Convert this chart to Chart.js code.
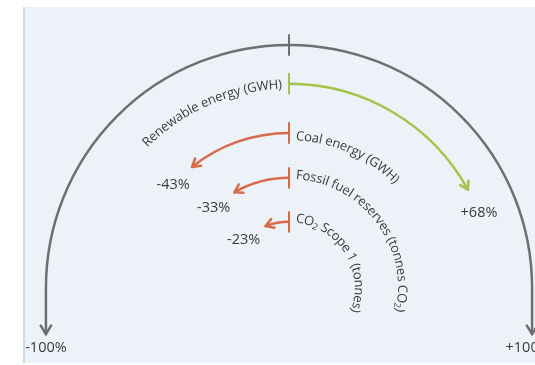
<!DOCTYPE html>
<html>
<head>
<meta charset="utf-8">
<script src="https://cdn.jsdelivr.net/npm/chart.js@4.4.1/dist/chart.umd.min.js"></script>
<style>
  html, body { margin: 0; padding: 0; background: #ffffff; width: 535px; height: 365px; overflow: hidden; }
  #panel { position: absolute; left: 23px; top: 7px; width: 512px; height: 356px; background: #edf1f8; border-left: 2px solid #c9dcef; box-sizing: border-box; }
  #wrap { position: absolute; left: 0; top: 0; width: 535px; height: 365px; }
</style>
</head>
<body>
<div id="panel"></div>
<div id="wrap"><canvas id="chart" width="535" height="365"></canvas></div>
<script>
// Change in each metric, in percent
const metrics = ['Renewable energy (GWH)', 'Coal energy (GWH)', 'Fossil fuel reserves (tonnes CO\u2082)', 'CO\u2082 Scope 1 (tonnes)'];
const changes = [68, -43, -33, -23];

// Gauge axis ticks
const axisTicks = [-100, 0, 100];
const axisTickLabels = ['-100%', '', '+100%'];

// Layout (chart units: the outer gauge ring has radius 100)
const ringRadius = [84, 63.8, 45.3, 27.2];
const nameRadius = [83.6, 62.4, 46.4, 28.6];
const tailLength = 19;
const endLabelShift = [0, 0, -4];   // px, keeps the right-hand label inside the page
const colors = { axis: '#6f6f6f', up: '#a3c34b', down: '#d86a4c', text: '#3b3b3b' };
const FONT = '"Open Sans", "Segoe UI", sans-serif';

const toAngle = v => v / 100 * Math.PI / 2;   // clockwise from the top

function polar(chart, r, th) {
  const xs = chart.scales.x, ys = chart.scales.y;
  return { x: xs.getPixelForValue(r * Math.sin(th)), y: ys.getPixelForValue(r * Math.cos(th)) };
}
function unitPx(chart) {
  const xs = chart.scales.x;
  return xs.getPixelForValue(1) - xs.getPixelForValue(0);
}

function chevron(ctx, tip, dx, dy, len, spread) {
  const back = Math.atan2(-dy, -dx);
  ctx.beginPath();
  ctx.moveTo(tip.x + len * Math.cos(back + spread), tip.y + len * Math.sin(back + spread));
  ctx.lineTo(tip.x, tip.y);
  ctx.lineTo(tip.x + len * Math.cos(back - spread), tip.y + len * Math.sin(back - spread));
  ctx.stroke();
}

function glyphs(text) {
  return Array.from(text).map(ch => ch === '\u2082'
    ? { ch: '2', font: '9px ' + FONT, dy: 3.5 }
    : { ch: ch, font: '13px ' + FONT, dy: 0 });
}

// Writes text clockwise along a circle; side > 0 starts at the top and runs right,
// side < 0 ends at the top.
function arcText(chart, text, r, side, gapPx) {
  const ctx = chart.ctx;
  const k = unitPx(chart);
  const rPx = r * k;
  const gs = glyphs(text);
  let total = 0;
  gs.forEach(g => { ctx.font = g.font; g.w = ctx.measureText(g.ch).width; total += g.w; });
  let th = side > 0 ? gapPx / rPx : -gapPx / rPx - total / rPx;
  ctx.fillStyle = colors.text;
  ctx.textAlign = 'center';
  ctx.textBaseline = 'middle';
  gs.forEach(g => {
    const mid = th + (g.w / 2) / rPx;
    const p = polar(chart, r, mid);
    ctx.save();
    ctx.translate(p.x, p.y);
    ctx.rotate(mid);
    ctx.font = g.font;
    ctx.fillText(g.ch, 0, g.dy);
    ctx.restore();
    th += g.w / rPx;
  });
}

const gaugePlugin = {
  id: 'gauge',
  afterDatasetsDraw(chart) {
    const ctx = chart.ctx;
    const k = unitPx(chart);
    const c = polar(chart, 0, 0);
    ctx.save();
    ctx.lineCap = 'round';
    ctx.lineJoin = 'round';

    // outer axis ring with downward tails
    ctx.strokeStyle = colors.axis;
    ctx.lineWidth = 2.5;
    const left = polar(chart, 100, toAngle(axisTicks[0]));
    const right = polar(chart, 100, toAngle(axisTicks[2]));
    const yTail = chart.scales.y.getPixelForValue(-tailLength);
    ctx.beginPath();
    ctx.moveTo(left.x, yTail);
    ctx.lineTo(left.x, left.y);
    ctx.arc(c.x, c.y, 100 * k, -Math.PI / 2 + toAngle(axisTicks[0]), -Math.PI / 2 + toAngle(axisTicks[2]), false);
    ctx.lineTo(right.x, yTail);
    ctx.stroke();
    chevron(ctx, { x: left.x, y: yTail }, 0, 1, 10, 0.55);
    chevron(ctx, { x: right.x, y: yTail }, 0, 1, 10, 0.55);
    // zero tick
    const t0 = polar(chart, 100 - 4.1, toAngle(axisTicks[1]));
    const t1 = polar(chart, 100 + 4.1, toAngle(axisTicks[1]));
    ctx.lineWidth = 2;
    ctx.beginPath(); ctx.moveTo(t0.x, t0.y); ctx.lineTo(t1.x, t1.y); ctx.stroke();

    // axis end labels
    ctx.fillStyle = colors.text;
    ctx.font = '14.5px ' + FONT;
    ctx.textAlign = 'center';
    ctx.textBaseline = 'middle';
    [0, 2].forEach(i => {
      const p = polar(chart, 100, toAngle(axisTicks[i]));
      ctx.fillText(axisTickLabels[i], p.x + endLabelShift[i], chart.scales.y.getPixelForValue(-tailLength - 5.8));
    });

    // one arrow per metric
    changes.forEach((v, i) => {
      const r = ringRadius[i];
      const th = toAngle(v);
      const col = v >= 0 ? colors.up : colors.down;
      const sgn = v >= 0 ? 1 : -1;
      ctx.strokeStyle = col;
      ctx.lineWidth = 2.5;
      ctx.beginPath();
      ctx.arc(c.x, c.y, r * k, -Math.PI / 2, -Math.PI / 2 + th, v < 0);
      ctx.stroke();
      // start tick
      const a = polar(chart, r - 4.1, 0), b = polar(chart, r + 4.1, 0);
      ctx.lineWidth = 2;
      ctx.beginPath(); ctx.moveTo(a.x, a.y); ctx.lineTo(b.x, b.y); ctx.stroke();
      // arrowhead
      const tip = polar(chart, r, th);
      ctx.lineWidth = 2.5;
      chevron(ctx, tip, sgn * Math.cos(th), sgn * Math.sin(th), 9, 0.55);
      // value label just beyond the arrow
      const lp = polar(chart, r, th + sgn * 26 / (r * k));
      ctx.fillStyle = colors.text;
      ctx.font = '14.5px ' + FONT;
      ctx.textAlign = 'center';
      ctx.textBaseline = 'middle';
      ctx.fillText((v > 0 ? '+' : '') + v + '%', lp.x, lp.y);
      // metric name along the ring, on the side opposite the arrow
      arcText(chart, metrics[i], nameRadius[i], -sgn, 7);
    });
    ctx.restore();
  }
};

new Chart(document.getElementById('chart'), {
  type: 'scatter',
  data: {
    datasets: [{
      label: 'Change',
      data: changes.map((v, i) => ({ x: ringRadius[i] * Math.sin(toAngle(v)), y: ringRadius[i] * Math.cos(toAngle(v)) })),
      pointRadius: 0,
      pointHoverRadius: 0
    }]
  },
  options: {
    responsive: false,
    animation: false,
    layout: { padding: 0 },
    plugins: { legend: { display: false }, tooltip: { enabled: false }, title: { display: false } },
    scales: {
      x: { type: 'linear', min: -118.9, max: 101.2, display: false },
      y: { type: 'linear', min: -31.7, max: 118.5, display: false }
    }
  },
  plugins: [gaugePlugin]
});
</script>
</body>
</html>
